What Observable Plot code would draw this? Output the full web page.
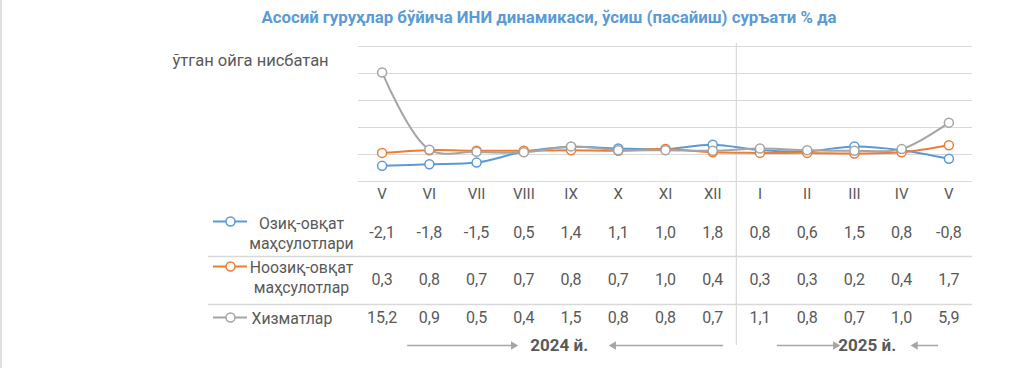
<!DOCTYPE html>
<html>
<head>
<meta charset="utf-8">
<script src="https://cdn.jsdelivr.net/npm/d3@7"></script>
<script src="https://cdn.jsdelivr.net/npm/@observablehq/plot@0.6"></script>
<style>
  html, body { margin: 0; padding: 0; background: #fff; }
  body { width: 1024px; height: 368px; overflow: hidden; position: relative; font-family: Roboto, "Noto Sans", sans-serif; }
  #edge { position: absolute; left: 0; top: 0; width: 2px; height: 368px; background: #e0e0e0; }
  #title { height: 36px; line-height: 34px; width: 1024px; text-align: center; color: #5B9BD5; font-weight: 700; font-size: 16.8px; transform: translateX(37px); white-space: nowrap; }
</style>
</head>
<body>
<div id="edge"></div>
<div id="title">Асосий гуруҳлар бўйича ИНИ динамикаси, ўсиш (пасайиш) суръати % да</div>
<div id="chart"></div>
<script>
const months = ["V","VI","VII","VIII","IX","X","XI","XII","I","II","III","IV","V"];
const food = [-2.1,-1.8,-1.5,0.5,1.4,1.1,1.0,1.8,0.8,0.6,1.5,0.8,-0.8];
const nonfood = [0.3,0.8,0.7,0.7,0.8,0.7,1.0,0.4,0.3,0.3,0.2,0.4,1.7];
const services = [15.2,0.9,0.5,0.4,1.5,0.8,0.8,0.7,1.1,0.8,0.7,1.0,5.9];
const seriesNames = ["Озиқ-овқат\nмаҳсулотлари", "Ноозиқ-овқат\nмаҳсулотлар", "Хизматлар"];
const seriesColors = ["#5B9BD5", "#ED7D31", "#A5A5A5"];
const yTicks = [-5, 0, 5, 10, 15, 20];
const axisNote = "ўтган ойга нисбатан";
const yearLabels = [{label: "2024 й.", at: 3.75}, {label: "2025 й.", at: 10.27}];
const yearArrows = [
  {from: 0.54, to: 2.78, dir: 90},
  {from: 7.23, to: 4.90, dir: -90},
  {from: 8.37, to: 9.60, dir: 90},
  {from: 11.78, to: 11.29, dir: -90}
];
const yearSplit = 7.5;

const values = [food, nonfood, services];
const idx = d3.range(months.length);
const fmt = v => v.toFixed(1).replace(".", ",");
const textColor = "#595959";
const yMin = yTicks[0];

// layout (styles only)
const rowDy = [51, 98, 136];
const labelDy = [51, 95, 136];
const swatchDy = [40, 85, 136];
const sepDy = [75, 123];
const arrowDy = 164;

const marks = [
  Plot.gridY(yTicks, {stroke: "#d9d9d9", strokeOpacity: 1, strokeWidth: 1}),
  Plot.ruleX([yearSplit], {stroke: "#d9d9d9", strokeWidth: 1.2, insetTop: -3, insetBottom: -arrowDy}),
  Plot.axisX(idx, {tickFormat: i => months[i], tickSize: 0, tickPadding: 7, fontSize: 15, fill: textColor}),
  Plot.text([axisNote], {frameAnchor: "top-left", text: d => d, dx: -186, dy: 14, textAnchor: "start", lineAnchor: "middle", fontSize: 16.5, fill: textColor})
];

values.forEach((vals, s) => {
  marks.push(Plot.line(idx, {x: i => i, y: i => vals[i], stroke: seriesColors[s], strokeWidth: 2, curve: "catmull-rom"}));
});
values.forEach((vals, s) => {
  marks.push(Plot.dot(idx, {x: i => i, y: i => vals[i], r: 4.5, stroke: seriesColors[s], fill: "white", strokeWidth: 1.5}));
});

values.forEach((vals, s) => {
  marks.push(Plot.text(idx, {x: i => i, text: i => fmt(vals[i]), frameAnchor: "bottom", lineAnchor: "middle", dy: rowDy[s], fontSize: 16, fill: textColor}));
  // legend swatch
  marks.push(Plot.ruleY([yMin], {y: d => d, stroke: seriesColors[s], strokeWidth: 2, dy: swatchDy[s], insetLeft: -145, insetRight: 725}));
  marks.push(Plot.dot([0], {frameAnchor: "bottom-left", dx: -128, dy: swatchDy[s], r: 4.5, stroke: seriesColors[s], fill: "white", strokeWidth: 1.5}));
  const multi = seriesNames[s].includes("\n");
  marks.push(Plot.text([seriesNames[s]], {frameAnchor: "bottom-left", text: d => d, dx: multi ? -57 : -107, dy: labelDy[s], textAnchor: multi ? "middle" : "start", lineAnchor: "middle", lineHeight: 1.3, fontSize: 15.8, fill: textColor}));
});

sepDy.forEach(d => {
  marks.push(Plot.ruleY([yMin], {y: v => v, stroke: "#d9d9d9", strokeWidth: 1.5, dy: d, insetLeft: -150}));
});

marks.push(Plot.ruleY(yearArrows, {x1: "from", x2: "to", y: () => yMin, stroke: "#a6a6a6", strokeWidth: 1.5, dy: arrowDy}));
yearArrows.forEach(a => {
  marks.push(Plot.dot([a], {x: "to", y: () => yMin, symbol: "triangle2", r: 4, fill: "#a6a6a6", rotate: a.dir, dy: arrowDy}));
});
marks.push(Plot.text(yearLabels, {x: "at", text: "label", frameAnchor: "bottom", lineAnchor: "middle", dy: arrowDy, fontSize: 17, fontWeight: "bold", fill: textColor}));

const chart = Plot.plot({
  width: 1024,
  height: 332,
  marginTop: 10,
  marginBottom: 187,
  marginLeft: 358,
  marginRight: 52,
  style: {fontFamily: "Roboto, 'Noto Sans', sans-serif", background: "white", overflow: "visible"},
  x: {type: "linear", domain: [-0.5, 12.5], axis: null},
  y: {domain: [yTicks[0], yTicks[yTicks.length - 1]], axis: null},
  marks
});
document.getElementById("chart").appendChild(chart);
</script>
</body>
</html>
